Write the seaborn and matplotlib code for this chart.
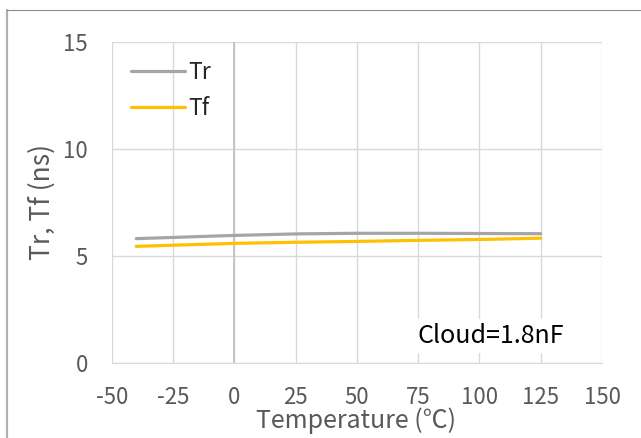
import matplotlib
matplotlib.use("Agg")
import matplotlib.pyplot as plt
import seaborn as sns
import pandas as pd
from matplotlib.lines import Line2D

temps = [-40, 0, 25, 50, 75, 100, 125]
tr = [5.82, 5.97, 6.04, 6.07, 6.07, 6.06, 6.05]
tf = [5.46, 5.60, 5.65, 5.69, 5.74, 5.78, 5.84]
series = ["Tr", "Tf"]
colors = {"Tr": "#a5a5a5", "Tf": "#ffc000"}
x_ticks = [-50, -25, 0, 25, 50, 75, 100, 125, 150]
y_ticks = [0, 5, 10, 15]

df = pd.concat([
    pd.DataFrame({"Temperature": temps, "Value": tr, "Series": "Tr"}),
    pd.DataFrame({"Temperature": temps, "Value": tf, "Series": "Tf"}),
])

sns.set_style("white")
plt.rcParams["font.family"] = ["Noto Sans CJK SC", "DejaVu Sans"]
plt.rcParams["axes.unicode_minus"] = False

fig = plt.figure(figsize=(6.41, 4.38), dpi=100)
ax = fig.add_axes([0.1743, 0.1701, 0.7649, 0.7347])

sns.lineplot(data=df, x="Temperature", y="Value", hue="Series", hue_order=series,
             palette=colors, linewidth=2.3, ax=ax, legend=True, zorder=3)

ax.set_xlim(-50, 150)
ax.set_ylim(0, 15)
ax.set_xticks(x_ticks)
ax.set_yticks(y_ticks)
ax.grid(True, color="#d9d9d9", linewidth=1.0)
ax.axvline(0, color="#bfbfbf", linewidth=1.2, zorder=2)
for s in ["top", "right", "left"]:
    ax.spines[s].set_visible(False)
ax.spines["bottom"].set_color("#d9d9d9")
ax.tick_params(axis="both", length=0, labelsize=16, labelcolor="#595959")
ax.tick_params(axis="x", pad=16)
ax.tick_params(axis="y", pad=17)

ax.set_xlabel("Temperature (℃)", fontsize=18, color="#595959")
ax.xaxis.set_label_coords(0.498, -0.2004)
ax.xaxis.label.set_va("baseline")
ax.set_ylabel("Tr, Tf (ns)", fontsize=19, color="#595959")
ax.yaxis.set_label_coords(-0.142, 0.503)
ax.yaxis.label.set_va("center")

leg = ax.legend(loc="upper left", bbox_to_anchor=(0.039, 0.94), frameon=False,
                fontsize=16.5, handlelength=2.35, handletextpad=0.15, labelspacing=0.58,
                borderpad=0, borderaxespad=0)
for line in leg.get_lines():
    line.set_linewidth(2.3)

ax.text(0.623, 0.064, "Cloud=1.8nF", transform=ax.transAxes, fontsize=18,
        color="black", ha="left", va="baseline",
        bbox=dict(facecolor="white", edgecolor="none", pad=3), zorder=4)

fig.add_artist(Line2D([6.5 / 641, 6.5 / 641], [0, 1 - 9.5 / 438], transform=fig.transFigure,
                      color="#b0b0b0", linewidth=1.6))
fig.add_artist(Line2D([6.5 / 641, 1], [1 - 9.5 / 438, 1 - 9.5 / 438], transform=fig.transFigure,
                      color="#8c8c8c", linewidth=0.8))

fig.savefig("out.png", dpi=100)
